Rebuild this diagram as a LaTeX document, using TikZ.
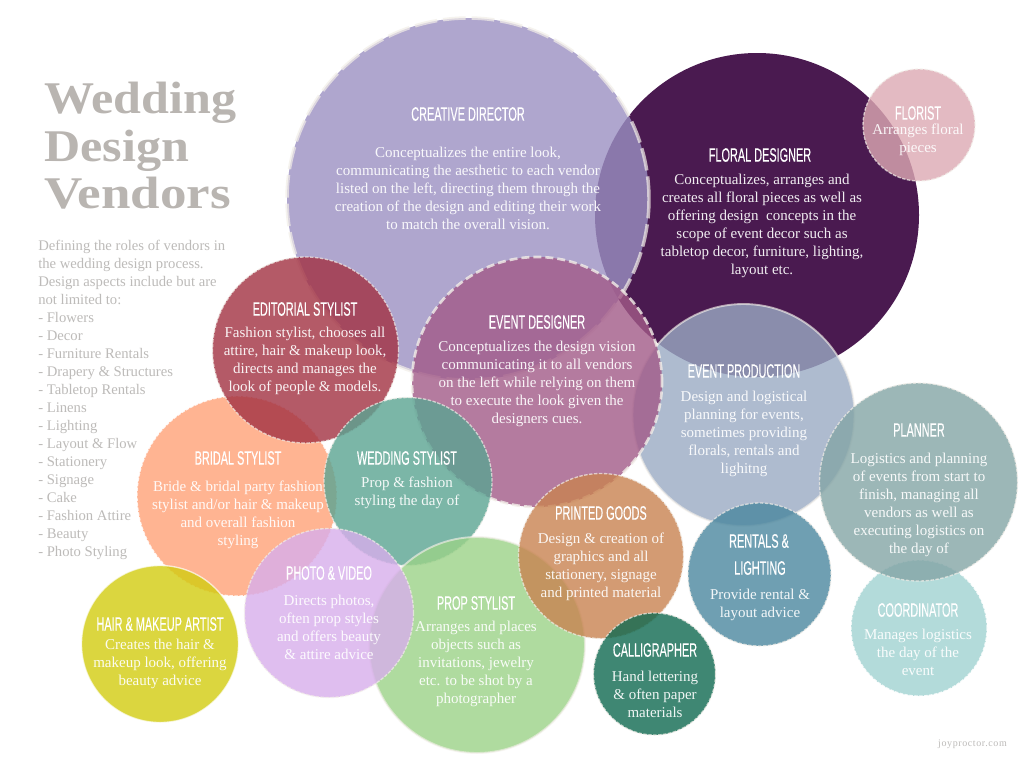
\documentclass[tikz,border=0pt]{standalone}
\usepackage{fontspec}
\setmainfont{Liberation Serif}
\newfontfamily\headf[FakeStretch=0.56,FakeBold=0.25]{Liberation Sans}
\newfontfamily\titlef[FakeStretch=1.105]{Liberation Serif}
\newfontfamily\titlewide[FakeStretch=1.17]{Liberation Serif}
\definecolor{cCreative}{HTML}{9B90C2}
\definecolor{cFloral}{HTML}{4A1A50}
\definecolor{cFlorist}{HTML}{DDA9B3}
\definecolor{cProduction}{HTML}{9AAAC4}
\definecolor{cEvent}{HTML}{A25A88}
\definecolor{cBridal}{HTML}{FFA277}
\definecolor{cEditorial}{HTML}{A23142}
\definecolor{cWedding}{HTML}{5AA492}
\definecolor{cProp}{HTML}{9BD288}
\definecolor{cPrinted}{HTML}{C98351}
\definecolor{cCalli}{HTML}{0F6A51}
\definecolor{cRentals}{HTML}{4B879F}
\definecolor{cPlanner}{HTML}{84A5A6}
\definecolor{cCoord}{HTML}{A0D2D1}
\definecolor{cPhoto}{HTML}{D8AEEC}
\definecolor{cHair}{HTML}{D3CC10}
\definecolor{cream}{HTML}{F2EEE8}
\definecolor{titlegrey}{HTML}{B9B5B1}
\definecolor{sidegrey}{HTML}{BDBBB9}
\tikzset{
  bubble/.style={circle,inner sep=0pt,outer sep=0pt,fill opacity=.8,draw opacity=.7},
  bigdash/.style={draw=cream,line width=2.6pt,dash pattern=on 17pt off 4.5pt},
  middash/.style={draw=cream,line width=2pt,dash pattern=on 6pt off 3pt,draw opacity=.8},
  smalldash/.style={draw=cream,line width=1pt,dash pattern=on 2.6pt off 1.1pt},
  softdash/.style={draw=white,line width=1pt,dash pattern=on 2.6pt off 1.1pt,draw opacity=.8},
  solidrim/.style={draw=cream,line width=1.4pt,draw opacity=.65},
  thinrim/.style={draw=white,line width=1pt},
  heading/.style={text=white,font=\headf\fontsize{14.6pt}{19pt}\selectfont,align=center,inner sep=0pt,yshift=-.75pt},
  bodytext/.style={text=white,text opacity=.92,font=\fontsize{11.25pt}{13.5pt}\selectfont,align=center,inner sep=0pt,yshift=-.75pt},
}
\newcommand\bub[6]{\node[bubble,fill=#5,minimum size=#4*1.5pt,#6] (#1) at (#2,#3) {};}
\begin{document}
\begin{tikzpicture}[x=.75pt,y=-.75pt]
\useasboundingbox (0,0) rectangle (1024,768);
\fill[white] (0,0) rectangle (1024,768);
% circles, bottom to top
\bub{floral}{757}{215}{162}{cFloral}{fill opacity=1}
\bub{florist}{919}{125}{56}{cFlorist}{smalldash}
\bub{creative}{468}{199}{181}{cCreative}{bigdash}
\bub{production}{743.5}{415}{111}{cProduction}{solidrim}
\bub{event}{537}{382}{125}{cEvent}{middash}
\bub{bridal}{237}{496}{100}{cBridal}{softdash}
\bub{editorial}{305.5}{350}{93}{cEditorial}{smalldash}
\bub{coordinator}{919}{628}{68}{cCoord}{softdash}
\bub{planner}{918.5}{482}{99}{cPlanner}{smalldash}
\bub{rentals}{759.5}{574.5}{71.5}{cRentals}{smalldash}
\bub{wedding}{408}{481.5}{84}{cWedding}{smalldash}
\bub{prop}{477}{645}{108}{cProp}{solidrim}
\bub{printed}{601}{556}{82.5}{cPrinted}{smalldash}
\bub{calli}{654.5}{674}{61}{cCalli}{smalldash}
\bub{photo}{329}{613}{84.5}{cPhoto}{smalldash}
\bub{hair}{160}{644}{78.5}{cHair}{thinrim}
% title and side text
\node[anchor=base west,inner sep=0pt,text=titlegrey,font=\titlef\bfseries\fontsize{34pt}{36pt}\selectfont] (t1) at (44,113) {Wedding};
\node[anchor=base west,inner sep=0pt,text=titlegrey,font=\titlef\bfseries\fontsize{34pt}{36pt}\selectfont] (t2) at (44,161) {Design};
\node[anchor=base west,inner sep=0pt,text=titlegrey,font=\titlewide\bfseries\fontsize{34pt}{36pt}\selectfont] (t3) at (44,208) {Vendors};
\node[anchor=west,inner sep=0pt,align=left,text=sidegrey,yshift=-.75pt,font=\fontsize{11pt}{13.5pt}\selectfont] (side) at (38,399) {Defining the roles of vendors in\\the wedding design process.\\Design aspects include but are\\not limited to:\\- Flowers\\- Decor\\- Furniture Rentals\\- Drapery \& Structures\\- Tabletop Rentals\\- Linens\\- Lighting\\- Layout \& Flow\\- Stationery\\- Signage\\- Cake\\- Fashion Attire\\- Beauty\\- Photo Styling};
% headings
\node[heading] (hCreative) at (468,113) {CREATIVE DIRECTOR};
\node[heading] (hFloral) at (760,154) {FLORAL DESIGNER};
\node[heading] (hFlorist) at (918,112) {FLORIST};
\node[heading] (hEvent) at (537,321) {EVENT DESIGNER};
\node[heading] (hEditorial) at (305,308) {EDITORIAL STYLIST};
\node[heading] (hBridal) at (238,457) {BRIDAL STYLIST};
\node[heading] (hWedding) at (407,457) {WEDDING STYLIST};
\node[heading] (hProduction) at (744,370) {EVENT PRODUCTION};
\node[heading] (hPlanner) at (919,429) {PLANNER};
\node[heading] (hPrinted) at (601,512) {PRINTED GOODS};
\node[heading] (hRentals) at (759,540) {RENTALS \&};
\node[heading] (hLighting) at (760,567) {LIGHTING};
\node[heading] (hCalli) at (655,649) {CALLIGRAPHER};
\node[heading] (hCoord) at (918,609) {COORDINATOR};
\node[heading] (hProp) at (476,602) {PROP STYLIST};
\node[heading] (hPhoto) at (329,572) {PHOTO \& VIDEO};
\node[heading] (hHair) at (160,623) {HAIR \& MAKEUP ARTIST};
% descriptions
\node[bodytext] (bCreative) at (468,187) {Conceptualizes the entire look,\\communicating the aesthetic to each vendor\\listed on the left, directing them through the\\creation of the design and editing their work\\to match the overall vision.};
\node[bodytext] (bFloral) at (762,225) {Conceptualizes, arranges and\\creates all floral pieces as well as\\offering design\ \ concepts in the\\scope of event decor such as\\tabletop decor, furniture, lighting,\\layout etc.};
\node[bodytext] (bFlorist) at (918,139) {Arranges floral\\pieces};
\node[bodytext] (bEvent) at (537,383) {Conceptualizes the design vision\\communicating it to all vendors\\on the left while relying on them\\to execute the look given the\\designers cues.};
\node[bodytext] (bEditorial) at (305,360) {Fashion stylist, chooses all\\attire, hair \& makeup look,\\directs and manages the\\look of people \& models.};
\node[bodytext] (bBridal) at (238,514) {Bride \& bridal party fashion\\stylist and/or hair \& makeup\\and overall fashion\\styling};
\node[bodytext] (bWedding) at (407,492) {Prop \& fashion\\styling the day of};
\node[bodytext] (bProduction) at (744,433) {Design and logistical\\planning for events,\\sometimes providing\\florals, rentals and\\lighitng};
\node[bodytext] (bPlanner) at (919,504) {Logistics and planning\\of events from start to\\finish, managing all\\vendors as well as\\executing logistics on\\the day of};
\node[bodytext] (bPrinted) at (601,566) {Design \& creation of\\graphics and all\\stationery, signage\\and printed material};
\node[bodytext] (bRentals) at (760,604) {Provide rental \&\\layout advice};
\node[bodytext] (bCalli) at (655,693) {Hand lettering\\\& often paper\\materials};
\node[bodytext] (bCoord) at (918,651) {Manages logistics\\the day of the\\event};
\node[bodytext] (bProp) at (476,663) {Arranges and places\\objects such as\\invitations, jewelry\\etc. to be shot by a\\photographer};
\node[bodytext] (bPhoto) at (329,626) {Directs photos,\\often prop styles\\and offers beauty\\\& attire advice};
\node[bodytext] (bHair) at (160,663) {Creates the hair \&\\makeup look, offering\\beauty advice};
\node[inner sep=0pt,text=sidegrey,font=\addfontfeatures{LetterSpace=6}\fontsize{7.5pt}{8pt}\selectfont] (credit) at (972.5,744) {joyproctor.com};
\end{tikzpicture}
\end{document}
